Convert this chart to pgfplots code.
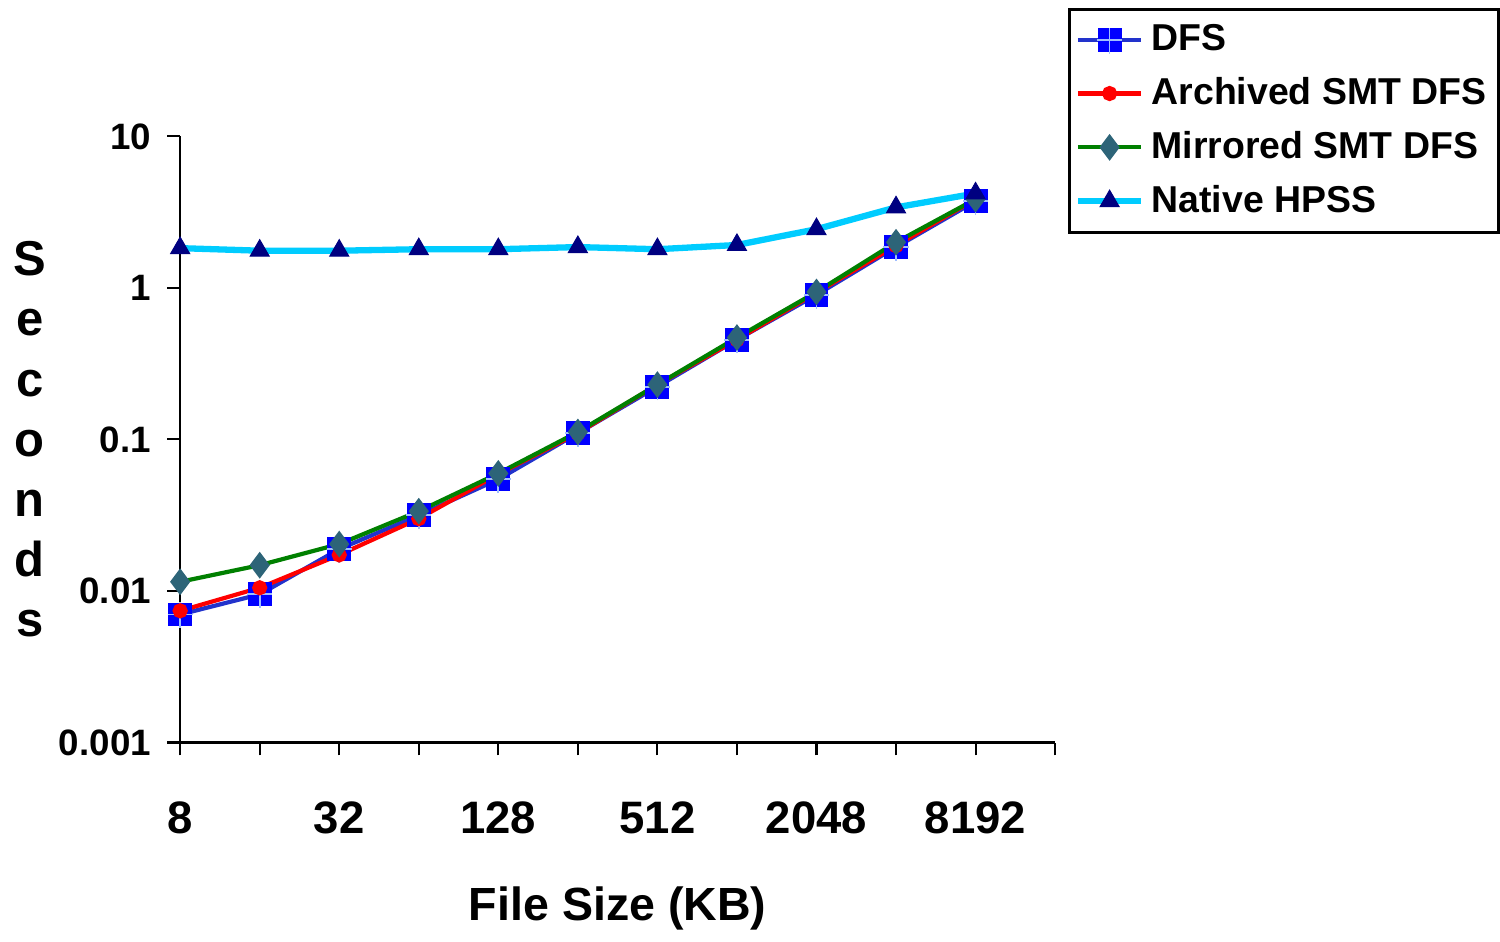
\documentclass[border=0pt]{standalone}
\usepackage{fontspec}
\setmainfont{Liberation Sans}
\usepackage{pgfplots}
\pgfplotsset{compat=1.18}
\usetikzlibrary{calc}
\definecolor{dfsline}{RGB}{34,51,204}
\definecolor{dfsfill}{RGB}{0,0,255}
\definecolor{dfscross}{RGB}{160,190,255}
\definecolor{archred}{RGB}{255,0,0}
\definecolor{mirgreen}{RGB}{0,128,0}
\definecolor{mirteal}{RGB}{45,100,120}
\definecolor{natcyan}{RGB}{0,204,255}
\definecolor{natnavy}{RGB}{0,0,128}

% blue square with a light cross, as in the original DFS marker
\pgfdeclareplotmark{sqcross}{%
  \pgfsetfillcolor{dfsfill}%
  \pgfpathrectangle{\pgfpoint{-\pgfplotmarksize}{-\pgfplotmarksize}}{\pgfpoint{2\pgfplotmarksize}{2\pgfplotmarksize}}%
  \pgfusepath{fill}%
  \pgfsetstrokecolor{dfscross}\pgfsetlinewidth{0.5pt}%
  \pgfpathmoveto{\pgfpoint{-1.05\pgfplotmarksize}{0pt}}\pgfpathlineto{\pgfpoint{1.05\pgfplotmarksize}{0pt}}%
  \pgfpathmoveto{\pgfpoint{0pt}{-1.15\pgfplotmarksize}}\pgfpathlineto{\pgfpoint{0pt}{1.05\pgfplotmarksize}}%
  \pgfusepath{stroke}%
}

\begin{document}
\begin{tikzpicture}
\begin{axis}[
    scale only axis,
    width=87.9mm, height=60.9mm,
    axis lines*=left,
    axis line style={line width=0.6pt},
    tick align=outside,
    major tick length=1.3mm,
    tick style={line width=0.6pt, black},
    xmin=0, xmax=11,
    xtick={0,...,11},
    xticklabels={8,,32,,128,,512,,2048,,8192,},
    ymode=log, ymin=0.001, ymax=10,
    ytick={0.001,0.01,0.1,1,10},
    yticklabels={0.001,0.01,0.1,1,10},
    yminorticks=false,
    font=\bfseries,
    xticklabel style={font=\fontsize{13}{15}\selectfont\bfseries, yshift=-3.4mm},
    yticklabel style={font=\fontsize{10.5}{12}\selectfont\bfseries, xshift=-0.4mm},
    xlabel={File Size (KB)},
    xlabel style={font=\fontsize{13.3}{16}\selectfont\bfseries, at={(axis description cs:0.5,-0.273)}, anchor=center},
    ylabel={S\\e\\c\\o\\n\\d\\s},
    ylabel style={font=\fontsize{14}{17.2}\selectfont\bfseries, rotate=-90, align=center,
                  at={(axis description cs:-0.172,0.5)}, anchor=center},
    legend style={at={(axis description cs:1.0148,1.2118)}, anchor=north west,
                  draw=black, line width=0.9pt, font=\fontsize{10.7}{13}\selectfont\bfseries,
                  row sep=0.75mm, inner xsep=0.5mm, inner ysep=0.8mm},
    legend image code/.code={%
      \draw[mark repeat=2,mark phase=2] plot coordinates {(0cm,0cm) (0.32cm,0cm) (0.64cm,0cm)};},
    legend cell align=left,
    clip=false,
]
\addplot[dfsline, line width=1.2pt, mark=sqcross, mark size=1.2mm] coordinates {
  (0,0.0070) (1,0.0095) (2,0.0189) (3,0.0316) (4,0.0546) (5,0.110)
  (6,0.223) (7,0.455) (8,0.90) (9,1.86) (10,3.73)
};
\addlegendentry{DFS}
\addplot[archred, line width=1.2pt, mark=*, mark size=0.55mm, mark options={fill=archred, draw=archred}] coordinates {
  (0,0.0074) (1,0.0105) (2,0.0173) (3,0.0300) (4,0.0590) (5,0.110)
  (6,0.230) (7,0.455) (8,0.93) (9,1.90) (10,3.85)
};
\addlegendentry{Archived SMT DFS}
\addplot[mirgreen, line width=1.2pt, mark=diamond*, mark size=1.0mm, mark options={fill=mirteal, draw=mirteal}] coordinates {
  (0,0.0115) (1,0.0148) (2,0.0204) (3,0.0336) (4,0.0597) (5,0.112)
  (6,0.230) (7,0.470) (8,0.94) (9,2.00) (10,3.85)
};
\addlegendentry{Mirrored SMT DFS}
\addplot[natcyan, line width=1.8pt, mark=triangle*, mark size=1.1mm, mark options={fill=natnavy, draw=natnavy, line width=0.3pt}] coordinates {
  (0,1.83) (1,1.76) (2,1.76) (3,1.80) (4,1.80) (5,1.86)
  (6,1.80) (7,1.92) (8,2.44) (9,3.40) (10,4.20)
};
\addlegendentry{Native HPSS}
\end{axis}
\path ($(current axis.south west)+(-18.1mm,-18.4mm)$) rectangle ($(current axis.north east)+(44mm,13.7mm)$);
\end{tikzpicture}
\end{document}
